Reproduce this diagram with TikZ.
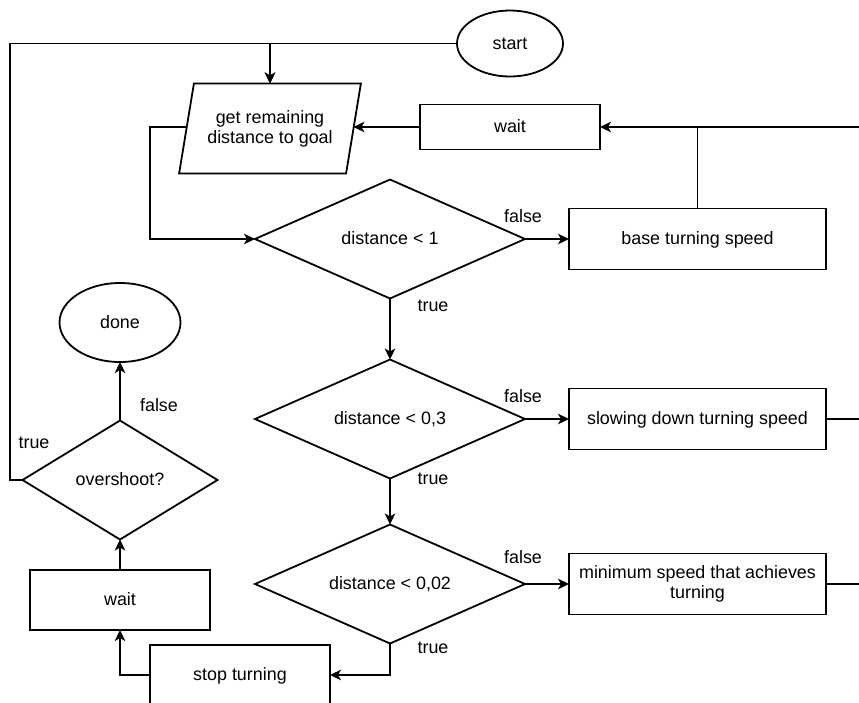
\documentclass[tikz,border=0pt]{standalone}
\usepackage{fontspec}
\setmainfont{Liberation Sans}
\usepackage{tikz}
\usetikzlibrary{positioning,shapes.geometric,arrows.meta}
\tikzset{box node/.style={rectangle,draw,minimum width=257pt,minimum height=61pt,inner sep=2pt,outer sep=0pt,align=center,text height=15pt,text depth=4pt},
	decision node/.style={diamond,draw,aspect=2.25,minimum width=270pt,minimum height=119pt,inner sep=0pt,outer sep=0pt,text height=15pt,text depth=4pt},
	io node/.style={trapezium,draw,trapezium left angle=71.6,trapezium right angle=108.4,trapezium stretches=true,minimum width=182pt,minimum height=90pt,inner sep=0pt,outer sep=0pt,align=center},
	end node/.style={ellipse,draw,inner sep=0pt,outer sep=0pt,text height=15pt,text depth=4pt},
	lbl node/.style={inner sep=0pt},}

\begin{document}
\begin{tikzpicture}[x=1pt,y=-1pt,line width=1.8pt,font=\fontsize{17.9pt}{20pt}\selectfont,>={Stealth[length=11pt,width=10.5pt,inset=3pt]}]
	\useasboundingbox (0,0) rectangle (859,702);
	\clip (0,0) rectangle (859,702);

	\node[end node,minimum width=106pt,minimum height=66pt] (1) at (510,43.5) {start};
	\node[io node] (2) at (270,128.5) {get remaining\\distance to goal};
	\coordinate (c0) at (270,127);
	\node[box node,minimum width=180pt,minimum height=45pt] (3) at (510,127) {wait};
	\node[decision node] (4) at (390,239) {distance < 1};
	\node[box node] (5) [right = 44pt of 4] {base turning speed};
	\node[decision node] (6) [below = 61pt of 4] {distance < 0,3};
	\node[box node] (7) [right = 44pt of 6] {slowing down turning speed};
	\node[decision node] (8) [below = 46pt of 6] {distance < 0,02};
	\node[box node,text height=,text depth=] (9) [right = 44pt of 8] {minimum speed that achieves\\turning};
	\node[box node,minimum width=180pt,minimum height=60pt] (10) at (240,675) {stop turning};
	\node[box node,minimum width=180pt,minimum height=60pt] (11) at (120,600) {wait};
	\node[decision node,minimum width=195pt,minimum height=119pt] (12) at (120,480) {overshoot?};
	\node[end node,minimum width=121pt,minimum height=79pt] (13) at (120,322.5) {done};

	\node[lbl node] (l1) at (523,216) {false};
	\node[lbl node] (l2) at (433,306) {true};
	\node[lbl node] (l3) at (523,396) {false};
	\node[lbl node] (l4) at (433,479) {true};
	\node[lbl node] (l5) at (523,557) {false};
	\node[lbl node] (l6) at (433,648) {true};
	\node[lbl node] (l7) at (159,405) {false};
	\node[lbl node] (l8) at (34,443) {true};

	\coordinate (c1) at (10,43.5);
	\coordinate (c2) at (150,239);
	\coordinate (r1) at (900,127);

	\path[draw,->]
	(4) edge (5)
	(4) edge (6)
	(6) edge (7)
	(6) edge (8)
	(8) edge (9)
	(11) edge (12)
	(12) edge (13)
	;

	\draw[->] (3.west) -- (c0 -| 2.east);
	\draw[->] (1.west) -| (2.center |- 2.north);
	\draw[->] (12.west) -| (c1) -| (2.center |- 2.north);
	\draw[->] (c0 -| 2.west) -- (c0 -| c2) -- (c2) -- (4.west);
	\draw[->] (8.south) |- (10.east);
	\draw[->] (10.west) -| (11.south);
	\draw[->] (r1) -- (3.east);
	\draw (5.north) -- (5.north |- 3.east);
	\draw (7.east) -| (r1);
	\draw (9.east) -| (r1);
\end{tikzpicture}
\end{document}
